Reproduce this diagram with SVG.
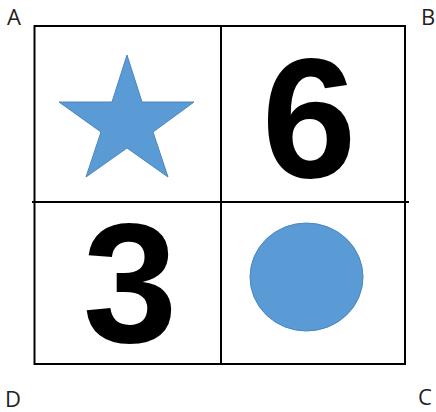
<svg xmlns="http://www.w3.org/2000/svg" width="436" height="412" viewBox="0 0 436 412">
<style>
.grid{stroke:#000;stroke-width:2;fill:none}
.shape{fill:#5B9BD5;stroke:#4A86BF;stroke-width:1}
.digit{font-family:"Liberation Sans",Arial,sans-serif;font-weight:bold;font-size:170px;fill:#000;text-anchor:middle}
.lbl{font-family:"Open Sans","Liberation Sans",Arial,sans-serif;font-size:22px;fill:#222}
</style>
<rect width="436" height="412" fill="#fff"/>
<g id="grid">
<rect class="grid" x="34.5" y="26" width="370.5" height="338"/>
<line class="grid" x1="221" y1="26" x2="221" y2="364"/>
<line class="grid" x1="32" y1="202" x2="409" y2="202"/>
</g>
<g id="star">
<polygon class="shape" points="127,55 142,102 194,102 153,132 168,177 127,148 86,177 101,132 59,102 112,102"/>
</g>
<g id="six"><text class="digit" x="309" y="177">6</text></g>
<g id="three"><text class="digit" x="130" y="342">3</text></g>
<g id="circle"><ellipse class="shape" cx="306.5" cy="277" rx="56.5" ry="54"/></g>
<g id="labels">
<text class="lbl" x="7" y="25">A</text>
<text class="lbl" x="421" y="25">B</text>
<text class="lbl" x="418" y="405">C</text>
<text class="lbl" x="5" y="407">D</text>
</g>
</svg>
